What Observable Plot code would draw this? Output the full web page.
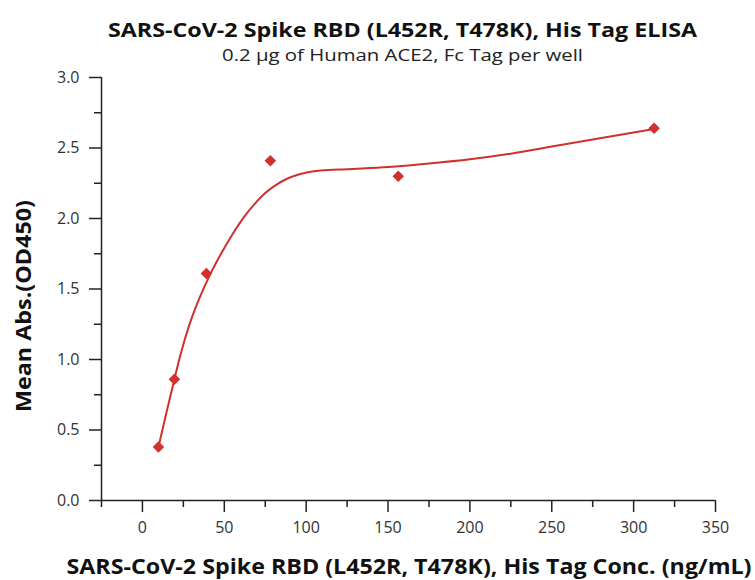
<!DOCTYPE html>
<html>
<head>
<meta charset="utf-8">
<script src="https://cdn.jsdelivr.net/npm/d3@7"></script>
<script src="https://cdn.jsdelivr.net/npm/@observablehq/plot@0.6"></script>
<style>
  html, body { margin: 0; padding: 0; background: #fff; }
  #chart { width: 755px; height: 580px; }
</style>
</head>
<body>
<div id="chart"></div>
<script>
// Measured points
const conc = [9.77, 19.53, 39.06, 78.13, 156.25, 312.5];
const absorbance = [0.38, 0.86, 1.61, 2.41, 2.30, 2.64];

// Fitted curve
const fitX = [9.77, 15, 19.53, 23.4, 28.5, 35, 40.8, 48, 55.1, 62, 68.3, 75, 80.5, 88, 94.9, 109, 125, 150, 175, 200, 225, 250, 275, 300, 312.5];
const fitY = [0.38, 0.64, 0.86, 1.04, 1.24, 1.44, 1.59, 1.75, 1.89, 2.01, 2.10, 2.18, 2.23, 2.28, 2.31, 2.34, 2.35, 2.365, 2.39, 2.42, 2.46, 2.51, 2.56, 2.61, 2.635];

const xMajor = [0, 50, 100, 150, 200, 250, 300, 350];
const xMinor = [-25, 25, 75, 125, 175, 225, 275, 325];
const yMajor = [0, 0.5, 1.0, 1.5, 2.0, 2.5, 3.0];
const yMinor = [0.25, 0.75, 1.25, 1.75, 2.25, 2.75];

const title = "SARS-CoV-2 Spike RBD (L452R, T478K), His Tag ELISA";
const subtitle = "0.2 µg of Human ACE2, Fc Tag per well";
const xLabel = "SARS-CoV-2 Spike RBD (L452R, T478K), His Tag Conc. (ng/mL)";
const yLabel = "Mean Abs.(OD450)";

const points = conc.map((x, i) => ({x, y: absorbance[i]}));
const fit = fitX.map((x, i) => ({x, y: fitY[i]}));

const red = "#d0302e";
const font = "'Open Sans', sans-serif";
const blank = () => "";

const chart = Plot.plot({
  width: 755,
  height: 580,
  marginLeft: 101,
  marginRight: 40,
  marginTop: 77,
  marginBottom: 80,
  style: {fontFamily: font, fontSize: "16px", color: "#333", background: "#fff"},
  x: {domain: [-25, 350]},
  y: {domain: [0, 3]},
  marks: [
    Plot.axisX({ticks: xMinor, tickSize: 7, tickFormat: blank, label: null, stroke: "#222", strokeWidth: 1.5}),
    Plot.axisX({ticks: xMajor, tickSize: 12, tickPadding: 9, label: null, stroke: "#222", strokeWidth: 1.5, fill: "#333", fontSize: 16}),
    Plot.axisY({ticks: yMinor, tickSize: 7, tickFormat: blank, label: null, stroke: "#222", strokeWidth: 1.5}),
    Plot.axisY({ticks: yMajor, tickSize: 12, tickPadding: 10, tickFormat: d3.format(".1f"), label: null, stroke: "#222", strokeWidth: 1.5, fill: "#333", fontSize: 16}),
    Plot.ruleY([0], {stroke: "#222", strokeWidth: 1.5}),
    Plot.ruleX([-25], {stroke: "#222", strokeWidth: 1.5}),
    Plot.line(fit, {x: "x", y: "y", stroke: red, strokeWidth: 2, curve: "monotone-x"}),
    Plot.dot(points, {x: "x", y: "y", symbol: "diamond2", r: 5.2, fill: red, stroke: "none"})
  ]
});

const svg = d3.select(chart);
function addText(str, x, y, size, weight, len, fill, transform) {
  const t = svg.append("text")
    .attr("text-anchor", "middle")
    .style("font-family", font).style("font-weight", weight).style("font-size", size + "px")
    .attr("fill", fill)
    .attr("textLength", len).attr("lengthAdjust", "spacingAndGlyphs")
    .text(str);
  if (transform) t.attr("transform", transform); else t.attr("x", x).attr("y", y);
  return t;
}
addText(title, 402.5, 37, 20, "bold", 589, "#111");
addText(subtitle, 402.5, 61, 17, "normal", 361, "#222");
addText(xLabel, 409, 574, 21, "bold", 685, "#111");
addText(yLabel, 0, 0, 21, "bold", 212, "#111", "translate(31,306) rotate(-90)");

document.getElementById("chart").appendChild(chart);
</script>
</body>
</html>
